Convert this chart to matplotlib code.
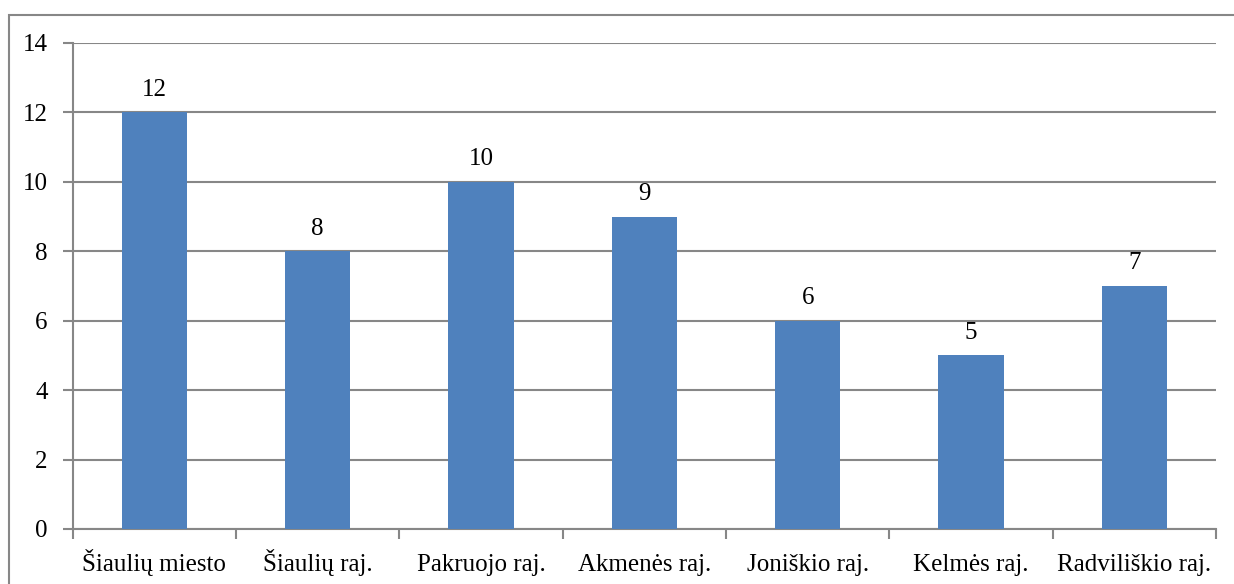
import matplotlib
matplotlib.use('Agg')
import matplotlib.pyplot as plt
import numpy as np
from matplotlib.patches import Rectangle

regions = ['Šiaulių miesto', 'Šiaulių raj.', 'Pakruojo raj.', 'Akmenės raj.',
           'Joniškio raj.', 'Kelmės raj.', 'Radviliškio raj.']
counts = [12, 8, 10, 9, 6, 5, 7]
y_ticks = [0, 2, 4, 6, 8, 10, 12, 14]

plt.rcParams['font.family'] = ['Liberation Serif', 'DejaVu Serif']
grid_col = '#878787'
bar_col = '#4F81BD'
fsize = 18

fig = plt.figure(figsize=(12.34, 5.84), dpi=100)
ax = fig.add_axes([0.0589, 0.0942, 0.9265, 0.8322])

# outer frame around the chart (runs off the right and bottom edges)
fig.patches.append(Rectangle((0.0073, -0.05), 1.05, 1.024, transform=fig.transFigure,
                             fill=False, edgecolor=grid_col, linewidth=1.5, clip_on=False))

x = np.arange(len(regions))
ax.bar(x, counts, width=0.4, color=bar_col, zorder=3)
for xi, v in zip(x, counts):
    ax.annotate(str(v), (xi, v), xytext=(0, 12), textcoords='offset points',
                ha='center', va='baseline', fontsize=fsize, zorder=4)

# category names on a common baseline under the axis
for xi, name in zip(x, regions):
    ax.annotate(name, (xi, 0), xytext=(0, -30), textcoords='offset points',
                ha='center', va='baseline', fontsize=fsize, annotation_clip=False)

ax.set_xlim(-0.5, len(regions) - 0.5)
ax.set_ylim(0, 14)
ax.set_yticks(y_ticks)
ax.yaxis.grid(True, color=grid_col, linewidth=1.5, zorder=0)

ax.set_xticks(np.arange(len(regions) + 1) - 0.5)
ax.set_xticklabels([])
ax.tick_params(axis='x', length=7, width=1.5, color=grid_col)
ax.tick_params(axis='y', length=7, width=1.5, color=grid_col, labelsize=fsize, pad=11)

for s in ['top', 'right']:
    ax.spines[s].set_visible(False)
for s in ['left', 'bottom']:
    ax.spines[s].set_color(grid_col)
    ax.spines[s].set_linewidth(1.5)

fig.savefig('out.png', dpi=100)
